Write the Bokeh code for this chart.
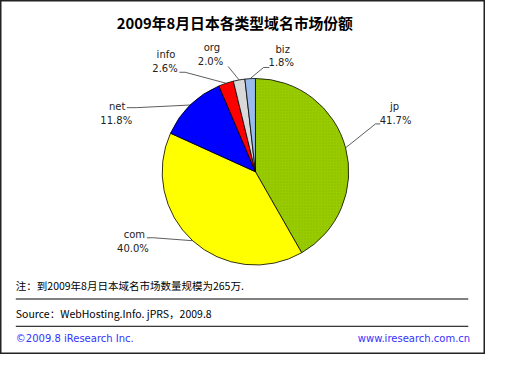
import math
from bokeh.plotting import figure
from bokeh.models import Range1d, ColumnDataSource
from bokeh.core.properties import value
from bokeh.embed import file_html
from bokeh.resources import INLINE

# ---- data ----
categories = ["jp", "com", "net", "info", "org", "biz"]
shares = [41.7, 40.0, 11.8, 2.6, 2.0, 1.8]
colors = ["#99CC00", "#FFFF00", "#0000FF", "#FF0000", "#D9D9D9", "#99BBEE"]
title_text = "2009年8月日本各类型域名市场份额"
note_text = "注：到2009年8月日本域名市场数量规模为265万."
source_text = "Source：WebHosting.Info. jPRS，2009.8"
copyright_text = "©2009.8 iResearch Inc."
url_text = "www.iresearch.com.cn"

# ---- layout (reference pixel coords, y down) ----
W, H = 507, 370
K = 354 / 370.0
CX, CY, R = 266.5, 179.0, 97.5
label_pos = {  # (name center, pct center)
    "jp": ((412, 111), (413, 125)),
    "com": ((140, 245), (138.5, 259)),
    "net": ((122, 111), (121, 125)),
    "info": ((173, 56), (172, 71)),
    "org": ((221, 49), (219.5, 64)),
    "biz": ((295, 51), (293.5, 65)),
}
leader_pts = {  # points from label toward the slice
    "jp": [(397, 129), (392, 129)],
    "com": [(153, 248), (160, 248)],
    "net": [(132, 112), (142, 112)],
    "info": [(187, 75), (193, 75)],
    "org": [(238, 69)],
    "biz": [(281, 70), (275, 70)],
}

def Y(y):
    return H - y

p = figure(width=485, height=354, x_range=Range1d(0, W), y_range=Range1d(0, H),
           output_backend="svg", toolbar_location=None, min_border=0)
p.axis.visible = False
p.grid.visible = False
p.background_fill_color = "white"
p.border_fill_color = "white"
p.outline_line_color = "#222222"
p.outline_line_width = 2

total = sum(shares)
starts, ends, mids = [], [], []
cum = 0.0
for s in shares:
    a0 = cum / total
    cum += s
    a1 = cum / total
    starts.append(math.pi / 2 - 2 * math.pi * a1)
    ends.append(math.pi / 2 - 2 * math.pi * a0)
    mids.append((a0 + a1) / 2)

src = ColumnDataSource(dict(start=starts, end=ends, color=colors))
p.wedge(x=CX, y=Y(CY), radius=R, start_angle="start", end_angle="end",
        fill_color="color", line_color="black", line_width=0.8, source=src)
# dotted texture on jp slice
p.wedge(x=CX, y=Y(CY), radius=R, start_angle=starts[0], end_angle=ends[0],
        fill_alpha=0, line_alpha=0, hatch_pattern="dot", hatch_color="#6F9900",
        hatch_scale=3, hatch_alpha=0.3)

# leader lines
xs, ys = [], []
for cat, m in zip(categories, mids):
    ang = 2 * math.pi * m
    ex = CX + R * math.sin(ang)
    ey = CY - R * math.cos(ang)
    pts = leader_pts[cat] + [(ex, ey)]
    xs.append([pt[0] for pt in pts])
    ys.append([Y(pt[1]) for pt in pts])
p.multi_line(xs=xs, ys=ys, line_color="#333333", line_width=0.8)

# labels
lab_font = value("DejaVu Sans")
nx = [label_pos[c][0][0] for c in categories]
ny = [Y(label_pos[c][0][1]) for c in categories]
px = [label_pos[c][1][0] for c in categories]
py = [Y(label_pos[c][1][1]) for c in categories]
pct = ["%.1f%%" % s for s in shares]
p.text(x=nx, y=ny, text=categories, text_font=lab_font, text_font_size="%.1fpx" % (10.5 * K),
       text_align="center", text_baseline="middle", text_color="#222222")
p.text(x=px, y=py, text=pct, text_font=lab_font, text_font_size="%.1fpx" % (10.5 * K),
       text_align="center", text_baseline="middle", text_color="#222222")

# title
p.text(x=[245], y=[Y(23.5)], text=[title_text], text_font=value("Noto Sans CJK SC"),
       text_font_style="bold", text_font_size="%.1fpx" % (15.5 * K),
       text_align="center", text_baseline="middle", text_color="black")

# footer
cjk = value("Noto Sans CJK SC")
p.text(x=[16], y=[Y(298)], text=[note_text], text_font=cjk,
       text_font_size="%.1fpx" % (11 * K), text_align="left", text_baseline="middle",
       text_color="black")
p.text(x=[16], y=[Y(327)], text=[source_text], text_font=cjk,
       text_font_size="%.1fpx" % (11 * K), text_align="left", text_baseline="middle",
       text_color="black")
p.segment(x0=[16, 16], y0=[Y(312), Y(340.5)], x1=[489, 489], y1=[Y(312), Y(340.5)],
          line_color="black", line_width=1)
p.text(x=[16], y=[Y(353)], text=[copyright_text], text_font=value("DejaVu Sans"),
       text_font_size="%.1fpx" % (10.5 * K), text_align="left", text_baseline="middle",
       text_color="#3333FF")
p.text(x=[491], y=[Y(353)], text=[url_text], text_font=value("DejaVu Sans"),
       text_font_size="%.1fpx" % (10.5 * K), text_align="right", text_baseline="middle",
       text_color="#3333FF")

open("out.html", "w").write(file_html(p, INLINE))
